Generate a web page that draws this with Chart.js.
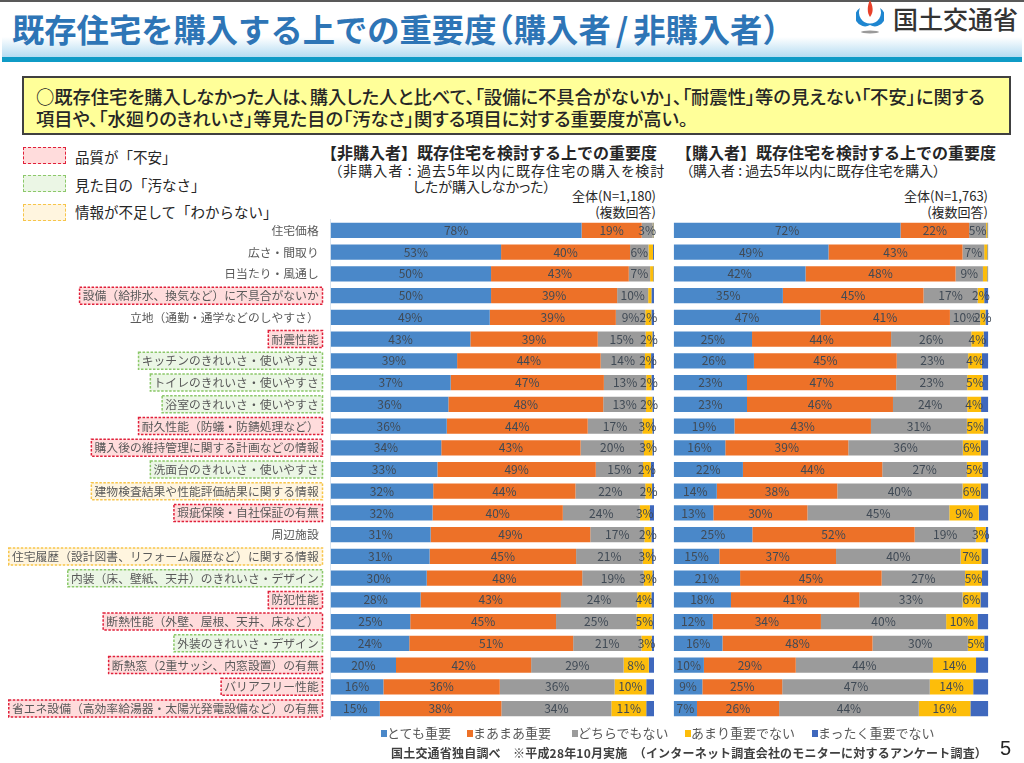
<!DOCTYPE html>
<html lang="ja">
<head>
<meta charset="utf-8">
<title>既存住宅を購入する上での重要度</title>
<script src="https://cdn.jsdelivr.net/npm/chart.js@4/dist/chart.umd.min.js"></script>
<style>
  html, body { margin: 0; padding: 0; background: #fff; }
  body { width: 1024px; height: 763px; position: relative; overflow: hidden; font-family: "Noto Sans CJK JP", sans-serif; color: #262626; }
  .t { position: absolute; white-space: nowrap; line-height: 1; }
  .p { font-feature-settings: "palt"; }
  .topline { position: absolute; left: 0; top: 0; width: 1024px; height: 2px; background: #595959; }
  .band { position: absolute; left: 2px; top: 37px; width: 1020px; height: 20px; background: linear-gradient(#ffffff, #b5dcf2); }
  .stripe { position: absolute; left: 2px; top: 57px; width: 1020px; height: 5px; background: #0f9bc6; }
  .title { left: 12px; top: 12px; font-size: 32.3px; font-weight: 700; color: #2e75b6; }
  .logo { position: absolute; left: 856px; top: 0; }
  .ministry { left: 893px; top: 6px; font-size: 25px; font-weight: 500; color: #333; }
  .notice { position: absolute; left: 22px; top: 76px; width: 985px; height: 55px; background: #ffff99; border: 2px solid #404040; }
  .swatch { position: absolute; left: 23px; width: 41px; height: 15px; border-width: 1.5px; border-style: dashed; }
  canvas { position: absolute; }
  .keybox { display: inline-block; width: 6px; height: 7px; vertical-align: 1px; }
</style>
</head>
<body>
<div class="topline"></div>
<div class="band"></div>
<div class="stripe"></div>
<div class="t title">既存住宅を購入する上での重要度<span style="margin-left:-15px">&#xFF08;</span>購入者<span style="margin:0 5px">/</span>非購入者&#xFF09;</div>
<svg class="logo" width="28" height="36" viewBox="0 0 28 36">
  <path d="M4 8 A11 11 0 1 0 24 8 A9 9 0 0 1 14 25 A9 9 0 0 1 4 8 Z" fill="#1f86d0"/>
  <path d="M14 0 C17 6 18 12 14 17 C11 13 11 6 14 0 Z" fill="#e8402a"/>
  <ellipse cx="14" cy="32" rx="9" ry="1.5" fill="#9a9a9a"/>
</svg>
<div class="t ministry">国土交通省</div>

<div class="notice"></div>
<div class="t p" style="left:36px;top:87px;font-size:18.3px;font-weight:500;">○既存住宅を購入しなかった人は、購入した人と比べて、「設備に不具合がないか」、「耐震性」等の見えない「不安」に関する</div>
<div class="t p" style="left:36px;top:109px;font-size:18.3px;font-weight:500;">項目や、「水廻りのきれいさ」等見た目の「汚なさ」関する項目に対する重要度が高い。</div>

<div class="swatch" style="top:147px;background:#ffdcdc;border-color:#e0203a;"></div>
<div class="swatch" style="top:175px;background:#ebf6e5;border-color:#8cc86a;"></div>
<div class="swatch" style="top:204px;background:#fff5df;border-color:#f7c54a;"></div>
<div class="t" style="left:75px;top:150px;font-size:14.5px;">品質が「不安」</div>
<div class="t" style="left:75px;top:178px;font-size:14.5px;">見た目の「汚なさ」</div>
<div class="t" style="left:75px;top:205px;font-size:14.5px;">情報が不足して「わからない」</div>

<div class="t" style="left:321px;top:144px;font-size:16px;font-weight:700;">【非購入者】既存住宅を検討する上での重要度</div>
<div class="t p" style="left:335px;top:163px;font-size:14px;letter-spacing:1.1px;">&#xFF08;非購入者 : 過去5年以内に既存住宅の購入を検討</div>
<div class="t p" style="left:413px;top:179px;font-size:14px;">したが購入しなかった&#xFF09;</div>
<div class="t" style="right:368px;top:189px;font-size:13px;">全体(N=1,180)</div>
<div class="t" style="right:368px;top:205px;font-size:13px;">(複数回答)</div>

<div class="t" style="left:676px;top:144px;font-size:16px;font-weight:700;">【購入者】既存住宅を検討する上での重要度</div>
<div class="t p" style="left:686px;top:163px;font-size:14px;">&#xFF08;購入者 : 過去5年以内に既存住宅を購入&#xFF09;</div>
<div class="t" style="right:36px;top:189px;font-size:13px;">全体(N=1,763)</div>
<div class="t" style="right:36px;top:205px;font-size:13px;">(複数回答)</div>

<canvas id="chartNon" width="660" height="510" style="left:0;top:215px;"></canvas>
<canvas id="chartBuy" width="340" height="510" style="left:665px;top:215px;"></canvas>

<div id="legend"></div>
<div class="t" style="left:391px;top:747px;font-size:12px;font-weight:700;letter-spacing:0.2px;color:#404040;">国土交通省独自調べ&#x3000;※平成28年10月実施&#x3000;&#xFF08;インターネット調査会社のモニターに対するアンケート調査&#xFF09;</div>
<div class="t" style="left:1000px;top:738px;font-size:20px;font-family:'Liberation Sans',sans-serif;">5</div>

<script>
const categories = [
  "住宅価格", "広さ・間取り", "日当たり・風通し", "設備\uFF08給排水、換気など\uFF09に不具合がないか",
  "立地\uFF08通勤・通学などのしやすさ\uFF09", "耐震性能", "キッチンのきれいさ・使いやすさ",
  "トイレのきれいさ・使いやすさ", "浴室のきれいさ・使いやすさ", "耐久性能\uFF08防蟻・防錆処理など\uFF09",
  "購入後の維持管理に関する計画などの情報", "洗面台のきれいさ・使いやすさ",
  "建物検査結果や性能評価結果に関する情報", "瑕疵保険・自社保証の有無", "周辺施設",
  "住宅履歴\uFF08設計図書、リフォーム履歴など\uFF09に関する情報", "内装\uFF08床、壁紙、天井\uFF09のきれいさ・デザイン",
  "防犯性能", "断熱性能\uFF08外壁、屋根、天井、床など\uFF09", "外装のきれいさ・デザイン",
  "断熱窓\uFF082重サッシ、内窓設置\uFF09の有無", "バリアフリー性能", "省エネ設備\uFF08高効率給湯器・太陽光発電設備など\uFF09の有無"
];
// r = 不安, g = 汚なさ, y = わからない, "" = no box
const categoryGroups = ["", "", "", "r", "", "r", "g", "g", "g", "r", "r", "g", "y", "r", "", "y", "g", "r", "r", "g", "r", "r", "r"];

const seriesNames = ["とても重要", "まあまあ重要", "どちらでもない", "あまり重要でない", "まったく重要でない"];
const seriesColors = ["#4a88c9", "#ed7128", "#9b9b9b", "#fdbd0a", "#3f68bd"];

// 非購入者
const nonVery = [77.6, 52.7, 49.6, 49.6, 49.2, 43.2, 39.1, 37.1, 36.4, 35.9, 34.2, 33.0, 31.7, 31.5, 30.9, 30.6, 29.7, 27.8, 24.6, 24.3, 20.2, 16.3, 15.2];
const nonFair = [18.6, 39.9, 42.6, 39.0, 39.0, 39.4, 44.4, 47.4, 47.9, 43.6, 43.1, 49.0, 44.0, 40.3, 49.4, 45.3, 48.1, 43.4, 45.1, 50.7, 41.8, 36.0, 37.6];
const nonNeutral = [3.4, 5.7, 6.6, 9.6, 9.1, 14.8, 13.7, 13.1, 13.2, 16.9, 19.6, 14.6, 21.6, 23.8, 16.7, 20.6, 19.0, 23.6, 24.9, 21.1, 28.6, 35.5, 34.0];
const nonLittle = [0.2, 1.4, 1.0, 1.0, 1.9, 2.1, 1.9, 1.6, 2.0, 3.1, 2.6, 2.4, 2.1, 3.1, 2.2, 2.9, 2.7, 4.4, 4.9, 3.2, 7.8, 9.8, 10.8];
const nonNone = [0.2, 0.3, 0.2, 0.8, 0.8, 0.5, 0.9, 0.8, 0.5, 0.5, 0.5, 1.0, 0.6, 1.3, 0.8, 0.5, 0.5, 0.8, 0.5, 0.7, 1.6, 2.4, 2.4];

// 購入者
const buyVery = [72.1, 49.2, 41.9, 34.7, 46.6, 24.9, 25.5, 23.3, 23.3, 19.3, 16.4, 22.0, 13.7, 12.6, 25.0, 14.5, 21.1, 18.2, 12.4, 15.5, 9.6, 9.1, 7.4];
const buyFair = [21.8, 42.6, 47.7, 44.7, 41.2, 44.2, 45.4, 47.4, 46.4, 43.4, 39.1, 44.3, 38.3, 29.9, 51.6, 37.1, 45.0, 40.8, 34.4, 47.7, 29.2, 25.4, 26.1];
const buyNeutral = [5.4, 6.9, 8.7, 17.2, 9.6, 25.5, 22.7, 22.6, 23.6, 30.5, 36.4, 26.9, 39.8, 45.1, 19.4, 39.6, 26.5, 32.8, 39.8, 30.3, 43.6, 46.9, 44.4];
const buyLittle = [0.4, 1.0, 1.4, 2.1, 1.7, 3.9, 4.4, 4.9, 4.4, 5.3, 5.7, 4.9, 5.8, 9.4, 3.2, 6.6, 5.4, 5.7, 10.0, 5.2, 13.7, 13.8, 16.4];
const buyNone = [0.3, 0.3, 0.3, 1.3, 0.9, 1.5, 2.0, 1.8, 2.3, 1.5, 2.4, 1.9, 2.4, 3.0, 0.8, 2.2, 2.0, 2.5, 3.4, 1.3, 3.9, 4.8, 5.7];

const boxStyles = {
  r: { line: "#e0203a", fill: "#ffdcdc" },
  g: { line: "#8cc86a", fill: "#ebf6e5" },
  y: { line: "#f7c54a", fill: "#fff5df" }
};
const tickFont = { family: "'Noto Sans CJK JP'", size: 11.8 };

// dashed boxes behind the category labels
const labelBoxes = {
  id: "labelBoxes",
  beforeDraw(chart) {
    const y = chart.scales.y;
    if (!y.options.display) return;
    const ctx = chart.ctx;
    ctx.save();
    ctx.font = tickFont.size + "px " + tickFont.family;
    categories.forEach((cat, i) => {
      const st = boxStyles[categoryGroups[i]];
      if (!st) return;
      const cy = y.getPixelForTick(i);
      const w = ctx.measureText(cat).width;
      ctx.fillStyle = st.fill;
      ctx.strokeStyle = st.line;
      ctx.lineWidth = 1.5;
      ctx.setLineDash([2.5, 1.5]);
      ctx.beginPath();
      ctx.rect(322.5 - w - 7, cy - 8.5, w + 7, 17);
      ctx.fill();
      ctx.stroke();
    });
    ctx.restore();
  }
};

// percent text centred on each segment, last series has none
const barLabels = {
  id: "barLabels",
  afterDatasetsDraw(chart) {
    const ctx = chart.ctx;
    ctx.save();
    ctx.font = "12px 'Noto Sans CJK JP'";
    ctx.fillStyle = "#404a55";
    ctx.textAlign = "center";
    ctx.textBaseline = "middle";
    chart.data.datasets.forEach((ds, d) => {
      if (d === 4) return;
      chart.getDatasetMeta(d).data.forEach((bar, i) => {
        if (ds.data[i] < 1.5) return;
        ctx.fillText(Math.round(ds.data[i]) + "%", (bar.base + bar.x) / 2, bar.y);
      });
    });
    ctx.restore();
  }
};

function dessineGraphe(id, series, showLabels, padding) {
  new Chart(document.getElementById(id), {
    type: "bar",
    data: {
      labels: categories,
      datasets: series.map((values, i) => ({
        label: seriesNames[i],
        data: values,
        backgroundColor: seriesColors[i],
        barPercentage: 0.7,
        categoryPercentage: 1
      }))
    },
    options: {
      indexAxis: "y",
      responsive: false,
      animation: false,
      layout: { padding },
      plugins: { legend: { display: false }, tooltip: { enabled: false } },
      scales: {
        x: { stacked: true, min: 0, max: 100, display: false },
        y: {
          stacked: true,
          display: showLabels,
          afterFit(scale) {
            if (!showLabels) return;
            scale.width = 330.7;
            scale.paddingTop = 0;
            scale.paddingBottom = 0;
          },
          grid: { drawOnChartArea: false, drawTicks: false },
          border: { color: "#d9e4ef" },
          ticks: { autoSkip: false, maxRotation: 0, minRotation: 0, padding: 12, color: "#595959", font: tickFont }
        }
      }
    },
    plugins: [labelBoxes, barLabels]
  });
}

dessineGraphe("chartNon", [nonVery, nonFair, nonNeutral, nonLittle, nonNone], true,
  { left: 0, right: 6, top: 4.6, bottom: 5.6 });
dessineGraphe("chartBuy", [buyVery, buyFair, buyNeutral, buyLittle, buyNone], false,
  { left: 8.7, right: 16.7, top: 4.6, bottom: 5.6 });

// bottom legend
const legendLefts = [381, 467, 572, 685, 812];
const legend = document.getElementById("legend");
seriesNames.forEach((name, i) => {
  const item = document.createElement("div");
  item.className = "t";
  item.style.cssText = `left:${legendLefts[i]}px;top:726px;font-size:13px;color:#595959;`;
  item.innerHTML = `<span class="keybox" style="background:${seriesColors[i]}"></span>${name}`;
  legend.appendChild(item);
});
</script>
</body>
</html>
